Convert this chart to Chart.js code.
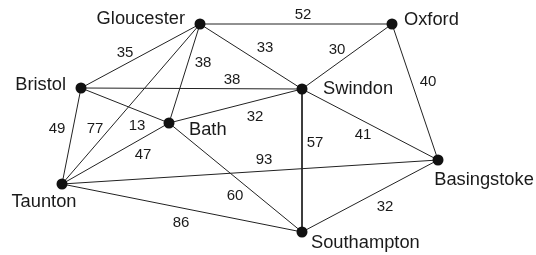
<!DOCTYPE html>
<html><head><meta charset="utf-8">
<script src="https://cdn.jsdelivr.net/npm/chart.js@4"></script>
<style>html,body{margin:0;padding:0;background:#fff}#wrap{width:536px;height:255px;position:relative}</style>
</head><body><div id="wrap"><canvas id="c"></canvas></div>
<script>
// Nodes (layout units: x right, y down)
const nodeNames = ['Gloucester','Oxford','Bristol','Swindon','Bath','Basingstoke','Taunton','Southampton'];
const nodeX = [200, 392, 81, 302, 169, 438, 62, 302];
const nodeY = [24, 24, 88, 89, 123, 160, 184, 232];
// Name label anchors
const nameX = [185, 404, 66, 323, 189, 484, 44, 311];
const nameY = [19, 20, 85, 89, 130, 180, 202, 243];
const nameAlign = ['right','left','right','left','left','center','center','left'];
// Edges
const edgeFrom = ['Gloucester','Gloucester','Gloucester','Gloucester','Gloucester','Oxford','Oxford','Bristol','Bristol','Bristol','Bath','Bath','Bath','Swindon','Swindon','Taunton','Taunton','Southampton'];
const edgeTo   = ['Oxford','Bristol','Bath','Swindon','Taunton','Swindon','Basingstoke','Swindon','Bath','Taunton','Swindon','Taunton','Southampton','Southampton','Basingstoke','Basingstoke','Southampton','Basingstoke'];
const edgeWeights = [52, 35, 38, 33, 77, 30, 40, 38, 13, 49, 32, 47, 60, 57, 41, 93, 86, 32];
// Weight label anchors
const weightX = [303, 125, 203, 265, 95, 337, 428, 232, 137, 57, 255, 143, 235, 315, 363, 264, 181, 385];
const weightY = [15, 53, 63, 48, 129, 50, 82, 80, 126, 129, 117, 155, 196, 143, 135, 160, 223, 207];

const idx = n => nodeNames.indexOf(n);
const datasets = [];
datasets.push({
  type: 'scatter',
  data: nodeNames.map((n,i)=>({x:nodeX[i], y:nodeY[i]})),
  pointRadius: 5.5, pointHoverRadius: 5.5,
  backgroundColor: '#111', borderWidth: 0, clip: false
});
edgeFrom.forEach((f,k)=>{
  const a = idx(f), b = idx(edgeTo[k]);
  datasets.push({
    type: 'line',
    data: [{x:nodeX[a], y:nodeY[a]}, {x:nodeX[b], y:nodeY[b]}],
    borderColor: '#222', borderWidth: 1, pointRadius: 0, tension: 0, fill: false, clip: false
  });
});

const labelPlugin = {
  id: 'labels',
  afterDatasetsDraw(chart) {
    const {ctx, scales:{x, y}} = chart;
    ctx.save();
    ctx.fillStyle = '#1a1a1a';
    ctx.textBaseline = 'middle';
    ctx.font = '18.3px "Liberation Sans", Arial, sans-serif';
    nodeNames.forEach((n,i)=>{
      ctx.textAlign = nameAlign[i];
      ctx.fillText(n, x.getPixelForValue(nameX[i]), y.getPixelForValue(nameY[i]));
    });
    ctx.font = '15px "Liberation Sans", Arial, sans-serif';
    ctx.textAlign = 'center';
    edgeWeights.forEach((w,k)=>{
      ctx.fillText(String(w), x.getPixelForValue(weightX[k]), y.getPixelForValue(weightY[k]));
    });
    ctx.restore();
  }
};

new Chart(document.getElementById('c'), {
  type: 'scatter',
  data: { datasets },
  options: {
    responsive: true, maintainAspectRatio: false, animation: false, devicePixelRatio: 1,
    layout: { padding: 0, autoPadding: false },
    plugins: { legend: { display: false }, tooltip: { enabled: false } },
    events: [],
    scales: {
      x: { type: 'linear', min: 0, max: 536, display: false },
      y: { type: 'linear', min: 0, max: 255, reverse: true, display: false }
    }
  },
  plugins: [labelPlugin]
});
</script>
</body></html>
